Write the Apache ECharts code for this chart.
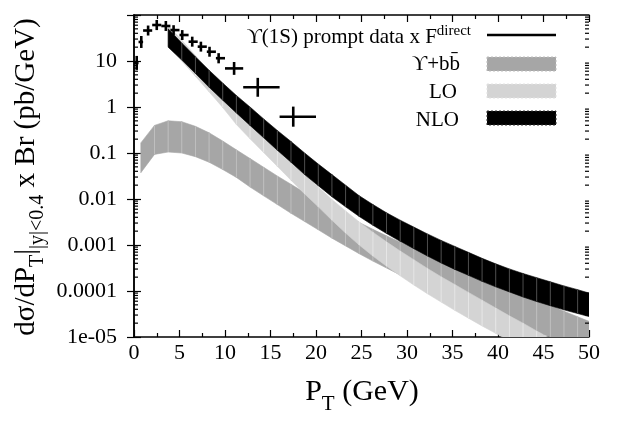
<!DOCTYPE html>
<html><head><meta charset="utf-8">
<script src="https://cdn.jsdelivr.net/npm/echarts@6/dist/echarts.min.js"></script>
<style>html,body{margin:0;padding:0;background:#fff}#c{width:617px;height:422px}</style>
</head><body><div id="c"></div>
<script>
const FONT = '"Liberation Serif", "DejaVu Serif", "Times New Roman", serif';

// ---- Measured data: Upsilon(1S) prompt data x F^direct ----
const dataPt    = [0.3, 0.8, 1.55, 2.5, 3.5, 4.35, 5.3, 6.4, 7.35, 8.3, 9.3, 11, 13.6, 17.5];
const dataPtLo  = [0, 0.5, 1, 2, 3, 4, 5, 6, 7, 8, 9, 10, 12, 16];
const dataPtHi  = [0.5, 1, 2, 3, 4, 5, 6, 7, 8, 9, 10, 12, 16, 20];
const dataVal   = [9.06, 25.9, 46, 60.6, 57.7, 47, 36.7, 26.3, 20.5, 15.9, 11.5, 6.9, 2.68, 0.616];
const dataErrLo = [6.4, 19.2, 35.8, 47, 45, 36.6, 28.6, 20.5, 16, 12.4, 8.9, 5.0, 1.67, 0.373];
const dataErrHi = [12.9, 35, 59, 78, 74, 60, 47, 33.8, 26.3, 20.4, 14.8, 9.5, 4.3, 1.02];

// ---- Theory bands (sampled pT grid) ----
const bandPt = [0.75, 2.25, 3.75, 5.25, 6.75, 8.25, 9.75, 11.25, 12.75, 14.25, 15.75, 17.25, 18.75, 20.25, 21.75, 23.25, 24.75, 26.25, 27.75, 29.25, 30.75, 32.25, 33.75, 35.25, 36.75, 38.25, 39.75, 41.25, 42.75, 44.25, 45.75, 47.25, 48.75, 50.25];

const bbUpper = [0.166, 0.398, 0.501, 0.479, 0.380, 0.275, 0.182, 0.117, 0.0759, 0.049, 0.0316, 0.0209, 0.0138, 0.00933, 0.00646, 0.00447, 0.00309, 0.00219, 0.00158, 0.00115, 8.32e-4, 6.17e-4, 4.57e-4, 3.39e-4, 2.57e-4, 1.95e-4, 1.48e-4, 1.12e-4, 8.32e-5, 6.31e-5, 4.9e-5, 3.63e-5, 2.75e-5, 2.09e-5];
const bbLower = [0.0372, 0.0933, 0.105, 0.1, 0.0832, 0.0631, 0.0437, 0.0295, 0.0182, 0.0117, 0.00759, 0.0049, 0.00324, 0.00214, 0.00141, 9.55e-4, 6.46e-4, 4.47e-4, 3.16e-4, 2.24e-4, 1.62e-4, 1.17e-4, 8.71e-5, 6.46e-5, 4.79e-5, 3.63e-5, 2.75e-5, 2.09e-5, 1.62e-5, 1.26e-5, 1e-5, 7.94e-6, 6.31e-6, 5.01e-6];

const loUpper = [null, null, 60.3, 28.2, 13.2, 6.03, 2.75, 1.26, 0.575, 0.275, 0.135, 0.0684, 0.0351, 0.0182, 0.00977, 0.0055, 0.00316, 0.0019, 0.00117, 7.41e-4, 4.79e-4, 3.09e-4, 2.04e-4, 1.38e-4, 9.33e-5, 6.31e-5, 4.27e-5, 2.88e-5, 2.0e-5, 1.35e-5, 9.33e-6, 6.46e-6, 4.47e-6, 3.09e-6];
const loLower = [null, null, 21.4, 10.0, 4.68, 2.14, 0.977, 0.417, 0.204, 0.102, 0.0513, 0.0257, 0.0129, 0.00676, 0.00347, 0.00182, 0.001, 5.75e-4, 3.47e-4, 2.14e-4, 1.35e-4, 8.71e-5, 5.75e-5, 3.80e-5, 2.57e-5, 1.74e-5, 1.20e-5, 8.32e-6, 5.75e-6, 3.98e-6, 2.82e-6, 2.0e-6, 1.41e-6, 1e-6];

const nloUpper = [null, null, 50.1, 24.5, 12.3, 6.31, 3.31, 1.78, 1.0, 0.55, 0.309, 0.178, 0.1, 0.0575, 0.0339, 0.02, 0.01175, 0.00759, 0.00501, 0.00347, 0.00245, 0.00174, 0.00126, 9.33e-4, 6.92e-4, 5.13e-4, 3.89e-4, 3.02e-4, 2.40e-4, 1.95e-4, 1.585e-4, 1.29e-4, 1.07e-4, 8.71e-5];
const nloLower = [null, null, 20.0, 10.5, 5.37, 2.69, 1.41, 0.741, 0.398, 0.214, 0.115, 0.0631, 0.0339, 0.0195, 0.0112, 0.00676, 0.00417, 0.00269, 0.00178, 0.0012, 8.32e-4, 5.75e-4, 4.07e-4, 2.95e-4, 2.19e-4, 1.62e-4, 1.23e-4, 9.55e-5, 7.41e-5, 5.89e-5, 4.79e-5, 3.89e-5, 3.24e-5, 2.69e-5];

// ---- Axis ticks / labels ----
const xTicks = [0, 5, 10, 15, 20, 25, 30, 35, 40, 45, 50];
const yTickVals = [1e-5, 1e-4, 1e-3, 1e-2, 0.1, 1, 10];
const yTickLabels = ['1e-05', '0.0001', '0.001', '0.01', '0.1', '1', '10'];
const yMinorMult = [2, 3, 4, 5, 6, 7, 8, 9];
const yDecades = [1e-5, 1e-4, 1e-3, 1e-2, 0.1, 1, 10];

const legendNames = ['\u03D2(1S) prompt data x F', '\u03D2+bb\u0304', 'LO', 'NLO'];

const C_BB = '#a6a6a6', C_LO = '#d4d4d4', C_NLO = '#000000';

function bandSeries(name, upper, lower, fill, seam, z) {
  const items = [];
  let first = -1;
  for (let i = 0; i < bandPt.length - 1; i++) {
    if (upper[i] != null && upper[i + 1] != null) {
      if (first < 0) first = i;
      items.push([bandPt[i], upper[i], i]);
    }
  }
  return {
    type: 'custom', name, z, clip: true, silent: true,
    xAxisIndex: 0, yAxisIndex: 0,
    encode: { x: 0, y: 1 },
    data: items,
    renderItem(params, api) {
      const i = api.value(2);
      const a = api.coord([bandPt[i], upper[i]]);
      const b = api.coord([bandPt[i + 1], upper[i + 1]]);
      const c = api.coord([bandPt[i + 1], lower[i + 1]]);
      const d = api.coord([bandPt[i], lower[i]]);
      const children = [{ type: 'polygon', shape: { points: [a, b, c, d] }, style: { fill: fill, stroke: fill, lineWidth: 0.6 } }];
      if (i > first) children.push({ type: 'line', shape: { x1: a[0], y1: a[1], x2: d[0], y2: d[1] }, style: { stroke: seam, lineWidth: 0.9 } });
      return { type: 'group', children };
    }
  };
}

const minorData = [];
yDecades.forEach(d => yMinorMult.forEach(m => { if (d * m < 100) minorData.push([0, d * m]); }));

const errData = dataPt.map((x, i) => [x, dataVal[i], i]);

const option = {
  animation: false,
  backgroundColor: '#fff',
  grid: { left: 134, right: 28, top: 15, bottom: 85, containLabel: false, outerBoundsMode: 'none' },
  xAxis: [{
    type: 'value', min: 0, max: 50, interval: 5, position: 'bottom',
    axisLine: { show: true, onZero: false, lineStyle: { color: '#000', width: 1.5 } },
    axisTick: { inside: true, length: 7, lineStyle: { color: '#000', width: 1.2 } },
    minorTick: { show: true, splitNumber: 2, length: 4, lineStyle: { color: '#000', width: 1.2 } },
    splitLine: { show: false }, minorSplitLine: { show: false },
    axisLabel: { fontFamily: FONT, fontSize: 22, color: '#000', margin: 5,
      formatter: v => (xTicks.indexOf(v) >= 0 ? String(v) : '') }
  }, {
    type: 'value', min: 0, max: 50, interval: 5, position: 'top',
    axisLine: { show: true, onZero: false, lineStyle: { color: '#000', width: 1.5 } },
    axisTick: { inside: true, length: 7, lineStyle: { color: '#000', width: 1.2 } },
    minorTick: { show: true, splitNumber: 2, length: 4, lineStyle: { color: '#000', width: 1.2 } },
    splitLine: { show: false }, axisLabel: { show: false }
  }],
  yAxis: [{
    type: 'log', logBase: 10, min: 1e-5, max: 100, position: 'left',
    axisLine: { show: true, lineStyle: { color: '#000', width: 1.5 } },
    axisTick: { inside: true, length: 7, lineStyle: { color: '#000', width: 1.2 } },
    splitLine: { show: false },
    axisLabel: { fontFamily: FONT, fontSize: 22, color: '#000', margin: 17,
      formatter: v => {
        const i = yTickVals.findIndex(t => Math.abs(Math.log10(t) - Math.log10(v)) < 1e-6);
        return i >= 0 ? yTickLabels[i] : '';
      } }
  }, {
    type: 'log', logBase: 10, min: 1e-5, max: 100, position: 'right',
    axisLine: { show: true, lineStyle: { color: '#000', width: 1.5 } },
    axisTick: { inside: true, length: 7, lineStyle: { color: '#000', width: 1.2 } },
    splitLine: { show: false }, axisLabel: { show: false }
  }],
  series: [
    bandSeries('bb', bbUpper, bbLower, C_BB, '#c2c2c2', 2),
    bandSeries('LO', loUpper, loLower, C_LO, '#e9e9e9', 3),
    bandSeries('NLO', nloUpper, nloLower, C_NLO, '#555555', 4),
    {
      type: 'custom', name: 'data', z: 6, clip: true, silent: true,
      xAxisIndex: 0, yAxisIndex: 0, encode: { x: 0, y: 1 }, data: errData,
      renderItem(params, api) {
        const i = api.value(2);
        const v1 = api.coord([dataPt[i], dataErrLo[i]]);
        const v2 = api.coord([dataPt[i], dataErrHi[i]]);
        const h1 = api.coord([dataPtLo[i], dataVal[i]]);
        const h2 = api.coord([dataPtHi[i], dataVal[i]]);
        const st = { stroke: '#000', lineWidth: 2.6 };
        return { type: 'group', children: [
          { type: 'line', shape: { x1: v1[0], y1: v1[1], x2: v2[0], y2: v2[1] }, style: st },
          { type: 'line', shape: { x1: h1[0], y1: h1[1], x2: h2[0], y2: h2[1] }, style: st }
        ] };
      }
    },
    {
      type: 'custom', name: 'minor', z: 7, silent: true,
      xAxisIndex: 0, yAxisIndex: 0, encode: { x: 0, y: 1 }, data: minorData,
      renderItem(params, api) {
        const p = api.coord([0, api.value(1)]);
        const cs = params.coordSys;
        const st = { stroke: '#000', lineWidth: 1.2 };
        return { type: 'group', children: [
          { type: 'line', shape: { x1: cs.x, y1: p[1], x2: cs.x + 4, y2: p[1] }, style: st },
          { type: 'line', shape: { x1: cs.x + cs.width, y1: p[1], x2: cs.x + cs.width - 4, y2: p[1] }, style: st }
        ] };
      }
    }
  ],
  graphic: [
    // axis titles
    { type: 'text', x: 362, y: 396, z: 10, style: {
        text: '{n|P}{s|T}{n| (GeV)}', align: 'center', verticalAlign: 'middle',
        rich: { n: { fontFamily: FONT, fontSize: 30, fill: '#000', padding: [0, 0, 7, 0], verticalAlign: 'bottom' },
                s: { fontFamily: FONT, fontSize: 21, fill: '#000', verticalAlign: 'bottom' } } } },
    { type: 'text', x: 30, y: 177, rotation: Math.PI / 2, z: 10, style: {
        text: '{n|dσ/dP}{s|T}{n||}{s||y|<0.4}{n| x Br (pb/GeV)}', align: 'center', verticalAlign: 'middle',
        rich: { n: { fontFamily: FONT, fontSize: 29, fill: '#000', padding: [0, 0, 7, 0], verticalAlign: 'bottom' },
                s: { fontFamily: FONT, fontSize: 20, fill: '#000', verticalAlign: 'bottom' } } } },
    // legend
    { type: 'text', x: 471, y: 36, z: 10, style: {
        text: '{n|' + legendNames[0] + '}{p|direct}', align: 'right', verticalAlign: 'middle',
        rich: { n: { fontFamily: FONT, fontSize: 21, fill: '#000', verticalAlign: 'bottom' },
                p: { fontFamily: FONT, fontSize: 15, fill: '#000', padding: [0, 0, 9, 0], verticalAlign: 'bottom' } } } },
    { type: 'line', z: 10, shape: { x1: 487, y1: 35, x2: 556, y2: 35 }, style: { stroke: '#000', lineWidth: 2.6 } },
    { type: 'text', x: 460, y: 64, z: 10, style: { text: legendNames[1], align: 'right', verticalAlign: 'middle', fontFamily: FONT, fontSize: 21, fill: '#000' } },
    { type: 'rect', z: 10, shape: { x: 487, y: 57, width: 69, height: 14 }, style: { fill: C_BB, stroke: '#bdbdbd', lineWidth: 1, lineDash: [2, 2] } },
    { type: 'text', x: 457, y: 92, z: 10, style: { text: legendNames[2], align: 'right', verticalAlign: 'middle', fontFamily: FONT, fontSize: 21, fill: '#000' } },
    { type: 'rect', z: 10, shape: { x: 487, y: 84, width: 69, height: 14 }, style: { fill: C_LO, stroke: '#e2e2e2', lineWidth: 1, lineDash: [2, 2] } },
    { type: 'text', x: 459, y: 120, z: 10, style: { text: legendNames[3], align: 'right', verticalAlign: 'middle', fontFamily: FONT, fontSize: 21, fill: '#000' } },
    { type: 'rect', z: 10, shape: { x: 487, y: 111, width: 69, height: 14 }, style: { fill: C_NLO, stroke: '#333', lineWidth: 1, lineDash: [2, 2] } }
  ]
};

const chart = echarts.init(document.getElementById('c'), null, { renderer: 'canvas' });
chart.setOption(option);
</script>
</body></html>
